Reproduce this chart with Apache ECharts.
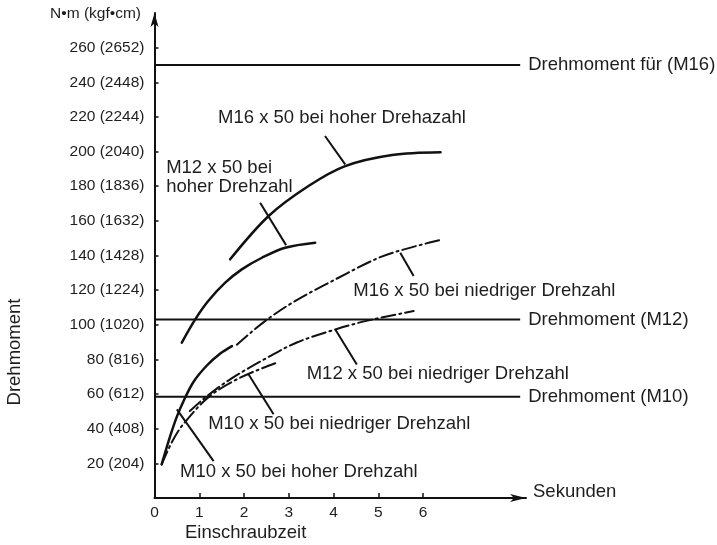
<!DOCTYPE html>
<html>
<head>
<meta charset="utf-8">
<script src="https://cdn.jsdelivr.net/npm/echarts@6/dist/echarts.min.js"></script>
<style>
html,body{margin:0;padding:0;background:#fff;}
#chart{width:717px;height:545px;}
</style>
</head>
<body>
<div id="chart"></div>
<script>
// Achsen
var tickNm = [20, 40, 60, 80, 100, 120, 140, 160, 180, 200, 220, 240, 260];
var tickKgf = [204, 408, 612, 816, 1020, 1224, 1428, 1632, 1836, 2040, 2244, 2448, 2652];
var xTicks = [0, 1, 2, 3, 4, 5, 6];

// Drehmoment-Grenzen
var refLevels = [250, 103, 58.5];
var refNames = ['Drehmoment für (M16)', 'Drehmoment (M12)', 'Drehmoment (M10)'];
var refEnd = 8.17;

// Kurven [Sekunden, N·m]
var m16High = [[1.69,137.8],[2.55,162.8],[3.44,180.1],[4.26,191.6],[5.31,198],[6.39,199.6]];
var m12High = [[0.61,89.7],[0.91,103.1],[1.2,113.7],[1.58,124.3],[1.95,132],[2.4,138.7],[2.92,144.5],[3.59,147.4]];
var m16Low  = [[1.84,88.5],[2.47,102.1],[3.14,113.7],[4.04,126.2],[4.93,137.8],[5.45,142.6],[6.43,149.3]];
var m12Low  = [[0.79,50.2],[1.13,57.9],[1.69,68.5],[2.58,81.9],[3.18,89.8],[4.04,97.3],[4.71,102.1],[5.79,107.9]];
var m10Low  = [[0.16,19.4],[0.42,33.8],[0.64,42.5],[1.2,58.1],[1.84,68.5],[2.73,78.1]];
var m10High = [[0.16,19.4],[0.35,35.7],[0.5,47],[0.65,56],[0.87,67],[1.17,76.5],[1.47,83.4],[1.73,87.7]];

// Beschriftungen [x, y, Text] und Hinweislinien
var noteTexts = [
	[1.42, 219.7, 'M16 x 50 bei hoher Drehazahl'],
	[0.26, 185.3, 'M12 x 50 bei\nhoher Drehzahl'],
	[4.44, 119.5, 'M16 x 50 bei niedriger Drehzahl'],
	[3.40, 71.4, 'M12 x 50 bei niedriger Drehzahl'],
	[1.20, 42.5, 'M10 x 50 bei niedriger Drehzahl'],
	[0.57, 14.8, 'M10 x 50 bei hoher Drehzahl']
];
var noteLines = [
	[[3.81,209.0],[4.26,192.6]],
	[[2.36,170.5],[2.94,146.0]],
	[[5.79,128.1],[5.49,141.6]],
	[[4.52,77.1],[4.04,97.3]],
	[[2.66,48.3],[2.10,71.4]],
	[[1.32,21.3],[0.50,51.2]]
];

var FONT = "'Liberation Sans', Arial, sans-serif";
var INK = '#111';
var TXT = '#1e1e1e';

var chart = echarts.init(document.getElementById('chart'));

// glatte Kurve durch die Pixelpunkte (Bezier)
function smoothPath(p) {
	var n = p.length;
	function dir(a, b) {
		var dx = b[0] - a[0], dy = b[1] - a[1];
		var l = Math.sqrt(dx * dx + dy * dy) || 1;
		return [dx / l, dy / l];
	}
	var t = [];
	for (var i = 1; i < n - 1; i++) {
		t[i] = dir(p[i - 1], p[i + 1]);
	}
	// Enden: halb gespiegelt
	var d0 = dir(p[0], p[1]);
	t[0] = n > 2 ? dir([0, 0], [1.5 * d0[0] - 0.5 * t[1][0], 1.5 * d0[1] - 0.5 * t[1][1]]) : d0;
	var d1 = dir(p[n - 2], p[n - 1]);
	t[n - 1] = n > 2 ? dir([0, 0], [1.5 * d1[0] - 0.5 * t[n - 2][0], 1.5 * d1[1] - 0.5 * t[n - 2][1]]) : d1;
	var s = 'M' + p[0][0] + ' ' + p[0][1];
	for (var k = 0; k < n - 1; k++) {
		var a = p[k], b = p[k + 1];
		var L = Math.sqrt((b[0] - a[0]) * (b[0] - a[0]) + (b[1] - a[1]) * (b[1] - a[1])) / 3;
		s += ' C' + (a[0] + t[k][0] * L) + ' ' + (a[1] + t[k][1] * L) + ' '
			+ (b[0] - t[k + 1][0] * L) + ' ' + (b[1] - t[k + 1][1] * L) + ' '
			+ b[0] + ' ' + b[1];
	}
	return s;
}

function curve(data, dashed) {
	return {
		type: 'custom',
		silent: true,
		clip: false,
		data: [data[0]],
		renderItem: function(params, api) {
			var pts = data.map(function(d) { return api.coord(d); });
			return {
				type: 'path',
				shape: {pathData: smoothPath(pts)},
				style: {
					fill: null,
					stroke: INK,
					lineWidth: dashed ? 2 : 2.5,
					lineDash: dashed ? [14, 4, 2, 4] : null,
					lineCap: 'round'
				}
			};
		}
	};
}

var series = [];
refLevels.forEach(function(v, i) {
	series.push({
		type: 'line',
		data: [[0, v], [refEnd, v]],
		symbol: 'none',
		silent: true,
		lineStyle: {color: INK, width: 2},
		endLabel: {
			show: true,
			formatter: refNames[i],
			distance: 8,
			fontFamily: FONT,
			fontSize: 18.5,
			color: TXT
		}
	});
});
series.push(curve(m16High, false));
series.push(curve(m12High, false));
series.push(curve(m10High, false));
series.push(curve(m16Low, true));
series.push(curve(m12Low, true));
series.push(curve(m10Low, true));
series.push({
	type: 'lines',
	coordinateSystem: 'cartesian2d',
	silent: true,
	lineStyle: {color: INK, width: 2, opacity: 1},
	data: noteLines.map(function(c) { return {coords: c}; })
});
series.push({
	type: 'scatter',
	symbolSize: 0,
	silent: true,
	clip: false,
	itemStyle: {opacity: 1},
	data: noteTexts,
	label: {
		show: true,
		position: 'right',
		distance: 0,
		opacity: 1,
		formatter: function(p) { return p.data[2]; },
		fontFamily: FONT,
		fontSize: 18.5,
		lineHeight: 19,
		color: TXT
	}
});

var option = {
	animation: false,
	backgroundColor: '#fff',
	grid: {left: 154.5, right: 191, top: 13, bottom: 47},
	xAxis: {
		type: 'value',
		min: 0,
		max: 8.3,
		splitLine: {show: false},
		axisLine: {show: true, symbol: ['none', 'arrow'], symbolSize: [6, 16], lineStyle: {color: INK, width: 2}},
		axisTick: {show: true, inside: true, length: 5, customValues: xTicks.slice(1), lineStyle: {color: INK, width: 1.5}},
		axisLabel: {customValues: xTicks, margin: 7, fontFamily: FONT, fontSize: 15.5, color: TXT}
	},
	yAxis: {
		type: 'value',
		min: 0,
		max: 280,
		splitLine: {show: false},
		axisLine: {show: true, symbol: ['none', 'arrow'], symbolSize: [6, 14], lineStyle: {color: INK, width: 2}},
		axisTick: {show: true, inside: true, length: 4, customValues: tickNm, lineStyle: {color: INK, width: 1.5}},
		axisLabel: {
			customValues: tickNm,
			margin: 10,
			fontFamily: FONT,
			fontSize: 15.5,
			color: TXT,
			formatter: function(v) {
				var i = tickNm.indexOf(v);
				return v + ' (' + tickKgf[i] + ')';
			}
		}
	},
	graphic: [
		{type: 'text', style: {text: 'N•m (kgf•cm)', x: 141, y: 14, textAlign: 'right', textVerticalAlign: 'middle', font: '15.5px ' + FONT, fill: TXT}},
		{type: 'text', style: {text: 'Sekunden', x: 533, y: 492, textAlign: 'left', textVerticalAlign: 'middle', font: '18.5px ' + FONT, fill: TXT}},
		{type: 'text', style: {text: 'Einschraubzeit', x: 185, y: 533, textAlign: 'left', textVerticalAlign: 'middle', font: '18.5px ' + FONT, fill: TXT}},
		{type: 'text', x: 15, y: 352, rotation: Math.PI / 2, style: {text: 'Drehmoment', x: 0, y: 0, textAlign: 'center', textVerticalAlign: 'middle', font: '18.5px ' + FONT, fill: TXT}}
	],
	series: series
};
chart.setOption(option);
</script>
</body>
</html>
